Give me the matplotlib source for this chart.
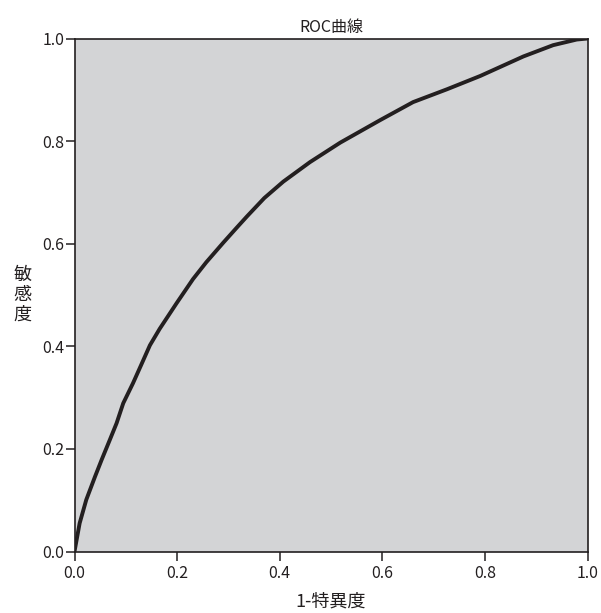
import matplotlib
matplotlib.use("Agg")
import matplotlib.pyplot as plt

plt.rcParams['font.family'] = ['Noto Sans CJK JP', 'DejaVu Sans']

# ROC curve points
fpr = [0.0, 0.010, 0.023, 0.040, 0.053, 0.069, 0.082, 0.095, 0.114, 0.131,
       0.147, 0.166, 0.199, 0.231, 0.257, 0.290, 0.316, 0.336, 0.370, 0.407,
       0.459, 0.518, 0.596, 0.660, 0.726, 0.791, 0.875, 0.933, 0.979, 1.0]
tpr = [0.0, 0.055, 0.101, 0.146, 0.179, 0.218, 0.250, 0.289, 0.328, 0.366,
       0.402, 0.434, 0.484, 0.531, 0.564, 0.602, 0.631, 0.653, 0.689, 0.721,
       0.759, 0.797, 0.841, 0.876, 0.901, 0.927, 0.965, 0.987, 0.998, 1.0]
ticks = [0.0, 0.2, 0.4, 0.6, 0.8, 1.0]
tick_labels = ["0.0", "0.2", "0.4", "0.6", "0.8", "1.0"]
title = "ROC曲線"
xlabel = "1-特異度"
ylabel = "敏\n感\n度"

fig = plt.figure(figsize=(6.01, 6.13), dpi=100)
ax = fig.add_axes([74.5/601, (613-551.5)/613, 513/601, 513/613])
ax.set_facecolor('#d3d4d6')
ax.plot(fpr, tpr, color='#231f20', linewidth=2.8, solid_capstyle='round',
        solid_joinstyle='round')
ax.set_xlim(0, 1)
ax.set_ylim(0, 1)
ax.set_xticks(ticks)
ax.set_xticklabels(tick_labels)
ax.set_yticks(ticks)
ax.set_yticklabels(tick_labels)
for s in ax.spines.values():
    s.set_color('#231f20')
    s.set_linewidth(1.2)
ax.tick_params(direction='out', length=6.5, width=1.1, color='#231f20',
               labelsize=11.5, labelcolor='#231f20', pad=1.0)
ax.tick_params(axis='x', pad=3)
ax.set_title(title, fontsize=11.5, color='#231f20', pad=5)
ax.set_xlabel(xlabel, fontsize=13, color='#231f20', labelpad=8)
ax.set_ylabel(ylabel, fontsize=13, color='#231f20', rotation=0,
              va='center', ha='center', linespacing=1.15, labelpad=14)
fig.savefig('out.png', dpi=100)
